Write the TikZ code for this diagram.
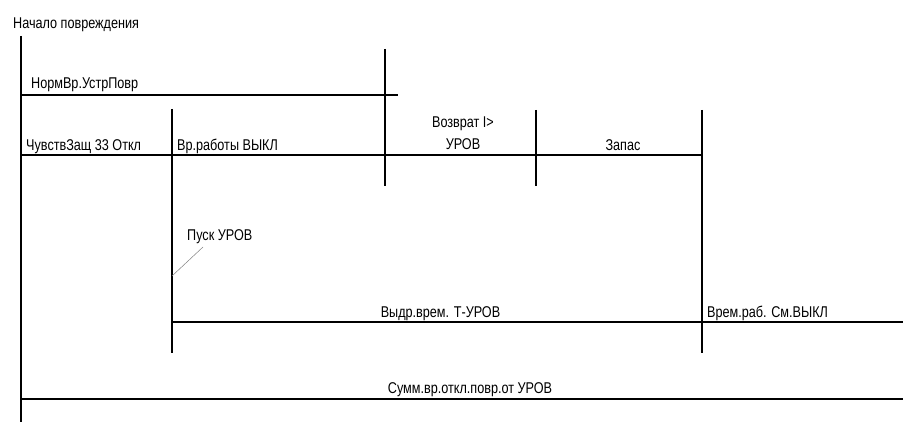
\documentclass[tikz,border=0pt]{standalone}
\usepackage{fontspec}
\setmainfont{Liberation Sans}[FakeStretch=0.81]
\begin{document}
\begin{tikzpicture}[x=1pt,y=-1pt,
  ln/.style={line width=1.1pt,black},
  leader/.style={line width=0.5pt,gray},
  lbl/.style={inner sep=0pt,font=\fontsize{15.6}{22}\selectfont}]
\useasboundingbox (0,0) rectangle (903,422);
% coordinates
\coordinate (v0t) at (21,36);   \coordinate (v0b) at (21,422);
\coordinate (v1t) at (385,49);  \coordinate (v1b) at (385,186);
\coordinate (v2t) at (172,109); \coordinate (v2b) at (172,353);
\coordinate (v3t) at (536,110); \coordinate (v3b) at (536,186);
\coordinate (v4t) at (702,110); \coordinate (v4b) at (702,353);
\coordinate (h1a) at (21,95);   \coordinate (h1b) at (398,95);
\coordinate (h2a) at (21,155);  \coordinate (h2b) at (703,155);
\coordinate (h3a) at (172,322); \coordinate (h3b) at (903,322);
\coordinate (h4a) at (21,399);  \coordinate (h4b) at (903,399);
\coordinate (lda) at (172,276); \coordinate (ldb) at (203,247);
% lines
\draw[ln] (v0t) -- (v0b);
\draw[ln] (v1t) -- (v1b);
\draw[ln] (v2t) -- (v2b);
\draw[ln] (v3t) -- (v3b);
\draw[ln] (v4t) -- (v4b);
\draw[ln] (h1a) -- (h1b);
\draw[ln] (h2a) -- (h2b);
\draw[ln] (h3a) -- (h3b);
\draw[ln] (h4a) -- (h4b);
\draw[leader] (lda) -- (ldb);
% labels
\node[lbl,anchor=base west] (t0) at (13,29) {Начало повреждения};
\node[lbl,anchor=base west] (t1) at (31,89) {НормВр.УстрПовр};
\node[lbl,anchor=base west] (t2) at (26,151) {ЧувствЗащ 33 Откл};
\node[lbl,anchor=base west] (t3) at (177,151) {Вр.работы ВЫКЛ};
\node[lbl,anchor=base] (t4a) at (463,128) {Возврат I>};
\node[lbl,anchor=base] (t4b) at (463,150) {УРОВ};
\node[lbl,anchor=base] (t5) at (623,151) {Запас};
\node[lbl,anchor=base west] (t6) at (187,241) {Пуск УРОВ};
\node[lbl,anchor=base] (t7) at (440.5,318) {Выдр.врем. Т-УРОВ};
\node[lbl,anchor=base west] (t8) at (707,317) {Врем.раб. См.ВЫКЛ};
\node[lbl,anchor=base] (t9) at (470,393) {Сумм.вр.откл.повр.от УРОВ};
\end{tikzpicture}
\end{document}
